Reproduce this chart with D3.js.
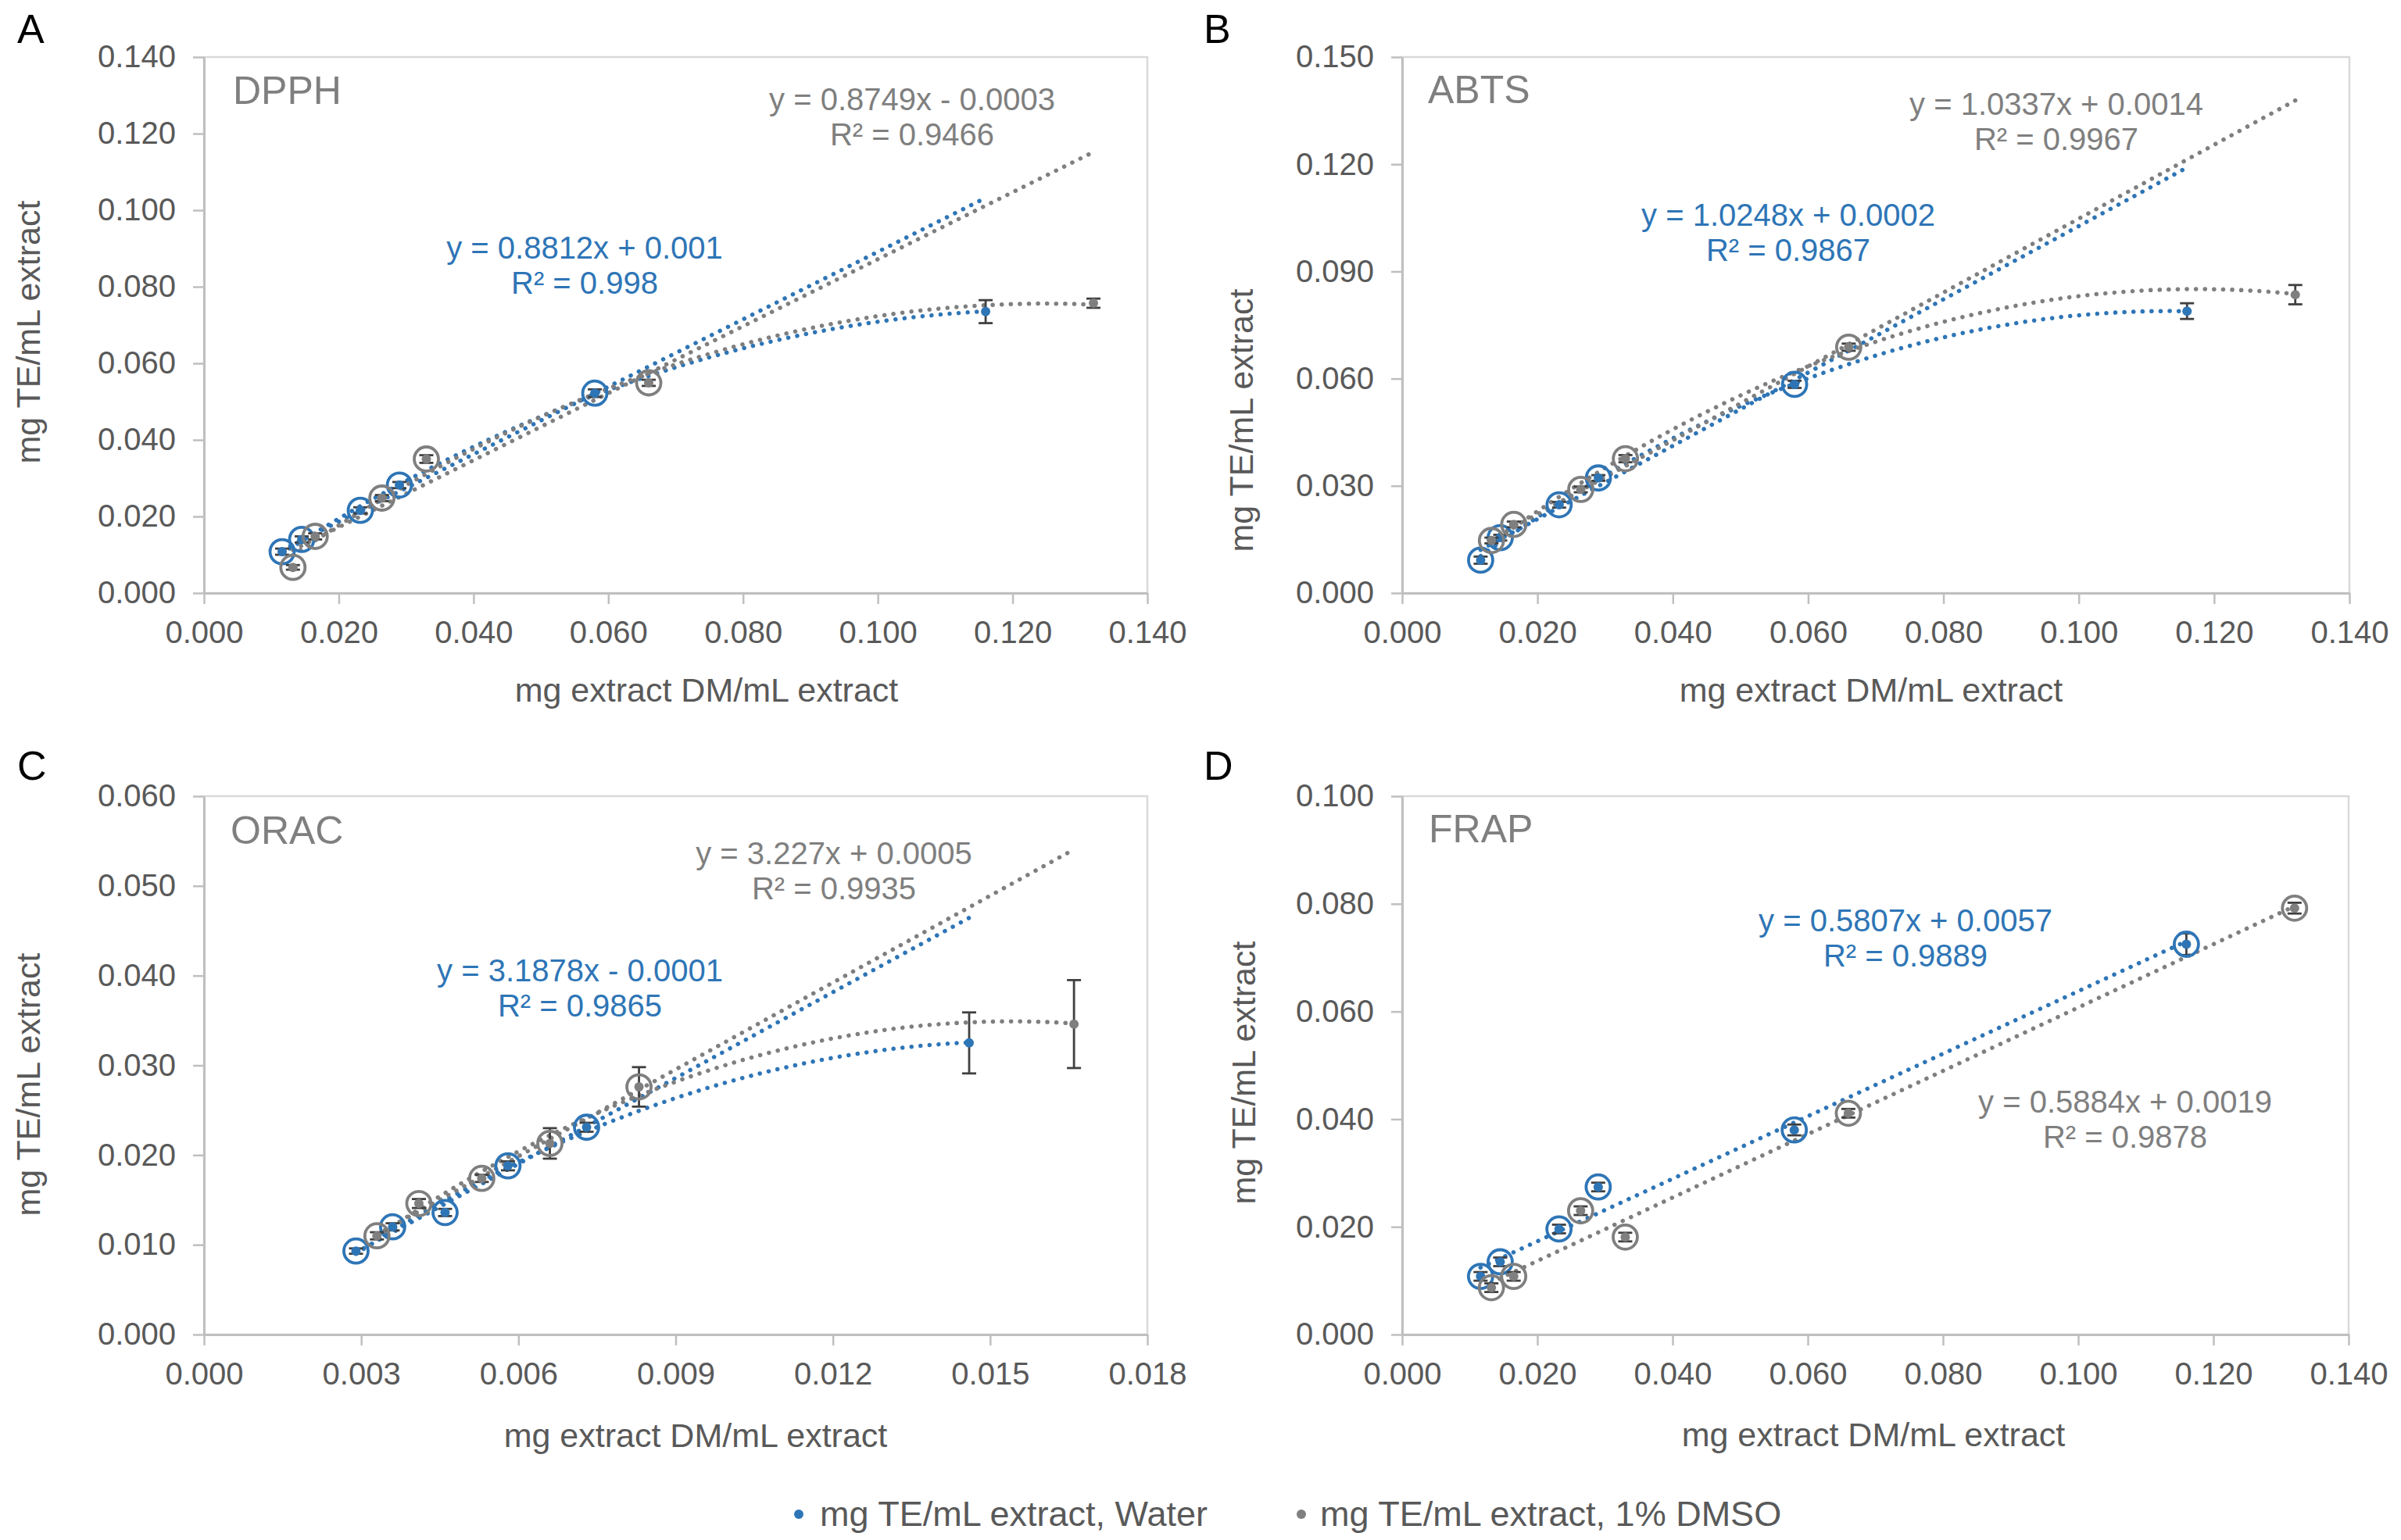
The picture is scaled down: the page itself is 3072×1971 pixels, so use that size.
<!DOCTYPE html>
<html lang="en">
<head>
<meta charset="utf-8">
<style>
  body { margin: 0; background: #fff; }
  text { font-family: "Liberation Sans", Arial, sans-serif; }
</style>
</head>
<body>
<script src="https://cdn.jsdelivr.net/npm/d3@7/dist/d3.min.js"></script>
<script>
// ---- data ----
var letters = ["A", "B", "C", "D"];
var assays = ["DPPH", "ABTS", "ORAC", "FRAP"];
var xTitle = "mg extract DM/mL extract";
var yTitle = "mg TE/mL extract";
var legendNames = ["mg TE/mL extract, Water", "mg TE/mL extract, 1% DMSO"];

// concentrations (mg extract DM/mL)
var waterX = [0.0116, 0.0145, 0.0232, 0.029, 0.058, 0.116];
var dmsoX = [0.0132, 0.0165, 0.0264, 0.033, 0.066, 0.132];
var waterXorac = [0.0029, 0.0036, 0.0046, 0.0058, 0.0073, 0.0146];
var dmsoXorac = [0.0033, 0.0041, 0.0053, 0.0066, 0.0083, 0.0166];

// DPPH
var dpphWater = [0.0108, 0.0140, 0.0216, 0.0282, 0.0522, 0.0735];
var dpphWaterErr = [0.0008, 0.0008, 0.0008, 0.0008, 0.0010, 0.0030];
var dpphDmso = [0.0067, 0.0148, 0.0248, 0.0350, 0.0549, 0.0757];
var dpphDmsoErr = [0.0006, 0.0008, 0.0008, 0.0010, 0.0008, 0.0012];
// ABTS
var abtsWater = [0.0092, 0.0155, 0.0247, 0.0322, 0.0584, 0.0789];
var abtsWaterErr = [0.0010, 0.0008, 0.0008, 0.0008, 0.0010, 0.0022];
var abtsDmso = [0.0147, 0.0192, 0.0290, 0.0376, 0.0688, 0.0835];
var abtsDmsoErr = [0.0008, 0.0008, 0.0008, 0.0010, 0.0010, 0.0027];
// ORAC
var oracWater = [0.0093, 0.0120, 0.0136, 0.0188, 0.0231, 0.0325];
var oracWaterErr = [0.0003, 0.0004, 0.0004, 0.0005, 0.0005, 0.0034];
var oracDmso = [0.0110, 0.0146, 0.0174, 0.0213, 0.0276, 0.0346];
var oracDmsoErr = [0.0004, 0.0005, 0.0004, 0.0017, 0.0022, 0.0049];
// FRAP
var frapWater = [0.0108, 0.0135, 0.0196, 0.0274, 0.0380, 0.0725];
var frapWaterErr = [0.0008, 0.0008, 0.0008, 0.0008, 0.0010, 0.0020];
var frapDmso = [0.0087, 0.0108, 0.0230, 0.0181, 0.0411, 0.0792];
var frapDmsoErr = [0.0008, 0.0008, 0.0008, 0.0008, 0.0008, 0.0010];

// linear trendlines as printed on the chart [water, dmso]
var slopes = [[0.8812, 0.8749], [1.0248, 1.0337], [3.1878, 3.227], [0.5807, 0.5884]];
var intercepts = [[0.001, -0.0003], [0.0002, 0.0014], [-0.0001, 0.0005], [0.0057, 0.0019]];
var eqLabels = [["y = 0.8812x + 0.001", "y = 0.8749x - 0.0003"],
                ["y = 1.0248x + 0.0002", "y = 1.0337x + 0.0014"],
                ["y = 3.1878x - 0.0001", "y = 3.227x + 0.0005"],
                ["y = 0.5807x + 0.0057", "y = 0.5884x + 0.0019"]];
var r2Labels = [["R² = 0.998", "R² = 0.9466"],
                ["R² = 0.9867", "R² = 0.9967"],
                ["R² = 0.9865", "R² = 0.9935"],
                ["R² = 0.9889", "R² = 0.9878"]];
var circled = [5, 5, 5, 6];          // points used in the linear fit
var hasPoly = [true, true, true, false];

// tick labels
var xTicksWide = [0, 0.02, 0.04, 0.06, 0.08, 0.10, 0.12, 0.14];
var xTicksOrac = [0, 0.003, 0.006, 0.009, 0.012, 0.015, 0.018];
var yTicksDpph = [0, 0.02, 0.04, 0.06, 0.08, 0.10, 0.12, 0.14];
var yTicksAbts = [0, 0.03, 0.06, 0.09, 0.12, 0.15];
var yTicksOrac = [0, 0.01, 0.02, 0.03, 0.04, 0.05, 0.06];
var yTicksFrap = [0, 0.02, 0.04, 0.06, 0.08, 0.10];

var blue = "#2E75B6", gray = "#7F7F7F", textGray = "#595959";
var colors = [blue, gray];

// ---- layout ----
var panels = [
  { x: [waterX, dmsoX], y: [dpphWater, dpphDmso], e: [dpphWaterErr, dpphDmsoErr],
    xt: xTicksWide, yt: yTicksDpph, l: 261, r: 1468, t: 73, b: 759,
    letter: [22, 55], title: [298, 133], eq: [[748, 331], [1167, 141]], xtl: [904, 898], ytl: [51, 425] },
  { x: [waterX, dmsoX], y: [abtsWater, abtsDmso], e: [abtsWaterErr, abtsDmsoErr],
    xt: xTicksWide, yt: yTicksAbts, l: 1794, r: 3006, t: 73, b: 759,
    letter: [1540, 55], title: [1827, 132], eq: [[2288, 289], [2631, 147]], xtl: [2394, 898], ytl: [1603, 538] },
  { x: [waterXorac, dmsoXorac], y: [oracWater, oracDmso], e: [oracWaterErr, oracDmsoErr],
    xt: xTicksOrac, yt: yTicksOrac, l: 261, r: 1468, t: 1019, b: 1708,
    letter: [22, 998], title: [295, 1080], eq: [[742, 1256], [1067, 1106]], xtl: [890, 1852], ytl: [51, 1388] },
  { x: [waterX, dmsoX], y: [frapWater, frapDmso], e: [frapWaterErr, frapDmsoErr],
    xt: xTicksWide, yt: yTicksFrap, l: 1794, r: 3005, t: 1019, b: 1708,
    letter: [1540, 998], title: [1828, 1078], eq: [[2438, 1192], [2719, 1424]], xtl: [2397, 1851], ytl: [1606, 1373] }
];

var svg = d3.select("body").append("svg")
  .attr("width", 3072).attr("height", 1971);

// least squares quadratic y = a + b x + c x^2
function quadFit(xs, ys) {
  var n = xs.length, s = [0, 0, 0, 0, 0], t = [0, 0, 0];
  for (var i = 0; i < n; i++) {
    var x = xs[i];
    for (var k = 0; k < 5; k++) s[k] += Math.pow(x, k);
    for (var k = 0; k < 3; k++) t[k] += ys[i] * Math.pow(x, k);
  }
  var M = [[s[0], s[1], s[2], t[0]], [s[1], s[2], s[3], t[1]], [s[2], s[3], s[4], t[2]]];
  for (var c = 0; c < 3; c++) {
    for (var r = c + 1; r < 3; r++) {
      var f = M[r][c] / M[c][c];
      for (var k = c; k < 4; k++) M[r][k] -= f * M[c][k];
    }
  }
  var sol = [0, 0, 0];
  for (var r = 2; r >= 0; r--) {
    var v = M[r][3];
    for (var k = r + 1; k < 3; k++) v -= M[r][k] * sol[k];
    sol[r] = v / M[r][r];
  }
  return function(x) { return sol[0] + sol[1] * x + sol[2] * x * x; };
}

panels.forEach(function(p, pi) {
  var x = d3.scaleLinear().domain([0, d3.max(p.xt)]).range([p.l, p.r]);
  var y = d3.scaleLinear().domain([0, d3.max(p.yt)]).range([p.b, p.t]);
  var g = svg.append("g");

  // plot frame
  g.append("rect").attr("x", p.l).attr("y", p.t)
    .attr("width", p.r - p.l).attr("height", p.b - p.t)
    .attr("fill", "none").attr("stroke", "#D9D9D9").attr("stroke-width", 2.5);

  var fmt = d3.format(".3f");
  var xa = g.append("g").attr("transform", "translate(0," + p.b + ")")
    .call(d3.axisBottom(x).tickValues(p.xt).tickFormat(fmt).tickSize(14).tickSizeOuter(0).tickPadding(22));
  var ya = g.append("g").attr("transform", "translate(" + p.l + ",0)")
    .call(d3.axisLeft(y).tickValues(p.yt).tickFormat(fmt).tickSize(14).tickSizeOuter(0).tickPadding(22));
  [xa, ya].forEach(function(a) {
    a.select(".domain").attr("stroke", "#BFBFBF").attr("stroke-width", 3);
    a.selectAll(".tick line").attr("stroke", "#BFBFBF").attr("stroke-width", 2.5);
    a.selectAll(".tick text").attr("fill", textGray).attr("font-size", 40)
      .style("font-family", '"Liberation Sans", Arial, sans-serif');
  });

  // titles
  g.append("text").attr("x", p.letter[0]).attr("y", p.letter[1])
    .attr("font-size", 52).attr("fill", "#000").text(letters[pi]);
  g.append("text").attr("x", p.title[0]).attr("y", p.title[1])
    .attr("font-size", 50).attr("fill", gray).text(assays[pi]);
  g.append("text").attr("x", p.xtl[0]).attr("y", p.xtl[1]).attr("text-anchor", "middle")
    .attr("font-size", 43).attr("fill", textGray).text(xTitle);
  g.append("text").attr("transform", "translate(" + p.ytl[0] + "," + p.ytl[1] + ") rotate(-90)")
    .attr("text-anchor", "middle").attr("font-size", 43).attr("fill", textGray).text(yTitle);

  var line = d3.line().x(function(d) { return x(d[0]); }).y(function(d) { return y(d[1]); });

  [0, 1].forEach(function(s) {
    var xs = p.x[s], ys = p.y[s], col = colors[s];
    var x0 = d3.min(xs), x1 = d3.max(xs);
    // linear trendline
    var lin = [x0, x1].map(function(v) { return [v, slopes[pi][s] * v + intercepts[pi][s]]; });
    g.append("path").datum(lin).attr("d", line)
      .attr("fill", "none").attr("stroke", col).attr("stroke-width", 5.5)
      .attr("stroke-linecap", "round").attr("stroke-dasharray", "0.1 11.5");
    // polynomial trendline
    if (hasPoly[pi]) {
      var f = quadFit(xs, ys);
      var pts = d3.range(0, 101).map(function(i) { var v = x0 + (x1 - x0) * i / 100; return [v, f(v)]; });
      g.append("path").datum(pts).attr("d", line)
        .attr("fill", "none").attr("stroke", col).attr("stroke-width", 5.5)
        .attr("stroke-linecap", "round").attr("stroke-dasharray", "0.1 11.5");
    }
    // equation
    g.append("text").attr("x", p.eq[s][0]).attr("y", p.eq[s][1]).attr("text-anchor", "middle")
      .attr("font-size", 40).attr("fill", col).text(eqLabels[pi][s]);
    g.append("text").attr("x", p.eq[s][0]).attr("y", p.eq[s][1] + 45).attr("text-anchor", "middle")
      .attr("font-size", 40).attr("fill", col).text(r2Labels[pi][s]);
  });

  [0, 1].forEach(function(s) {
    var xs = p.x[s], ys = p.y[s], es = p.e[s], col = colors[s];
    var data = xs.map(function(v, i) { return { x: v, y: ys[i], e: es[i], i: i }; });
    var eb = g.append("g").attr("stroke", "#404040").attr("stroke-width", 2.8);
    data.forEach(function(d) {
      eb.append("line").attr("x1", x(d.x)).attr("x2", x(d.x)).attr("y1", y(d.y - d.e)).attr("y2", y(d.y + d.e));
      eb.append("line").attr("x1", x(d.x) - 9).attr("x2", x(d.x) + 9).attr("y1", y(d.y - d.e)).attr("y2", y(d.y - d.e));
      eb.append("line").attr("x1", x(d.x) - 9).attr("x2", x(d.x) + 9).attr("y1", y(d.y + d.e)).attr("y2", y(d.y + d.e));
    });
    g.selectAll(null).data(data).enter().append("circle")
      .attr("cx", function(d) { return x(d.x); }).attr("cy", function(d) { return y(d.y); })
      .attr("r", 6).attr("fill", col);
    g.selectAll(null).data(data.filter(function(d) { return d.i < circled[pi]; })).enter().append("circle")
      .attr("cx", function(d) { return x(d.x); }).attr("cy", function(d) { return y(d.y); })
      .attr("r", 15.5).attr("fill", "none").attr("stroke", col).attr("stroke-width", 3.8);
  });
});

// legend
var legendX = [[1022, 1049], [1665, 1689]];
legendNames.forEach(function(n, i) {
  svg.append("circle").attr("cx", legendX[i][0]).attr("cy", 1938).attr("r", 6).attr("fill", colors[i]);
  svg.append("text").attr("x", legendX[i][1]).attr("y", 1953)
    .attr("font-size", 45).attr("fill", textGray).text(n);
});
</script>
</body>
</html>
